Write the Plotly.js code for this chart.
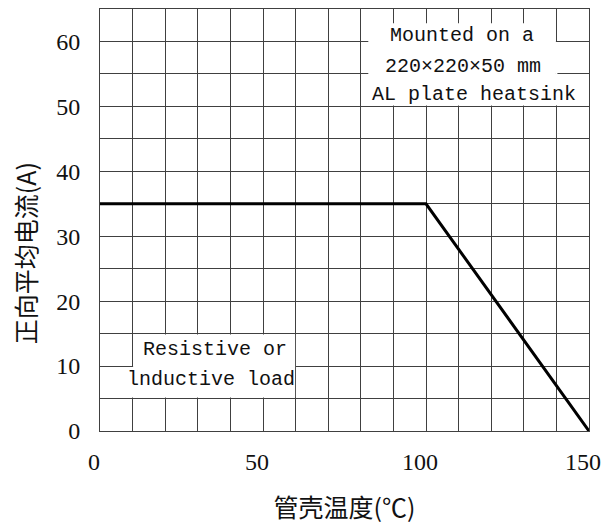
<!DOCTYPE html>
<html>
<head>
<meta charset="utf-8">
<script src="https://cdn.plot.ly/plotly-3.0.1.min.js"></script>
<style>html,body{margin:0;padding:0;background:#fff;}#chart{width:606px;height:524px;}</style>
</head>
<body>
<div id="chart"></div>
<script>
// Derating curve: case temperature (°C) vs average forward current (A)
const caseTemp = [0, 100, 150];
const forwardCurrent = [35, 35, 0];

const xTickVals = [0, 10, 20, 30, 40, 50, 60, 70, 80, 90, 100, 110, 120, 130, 140, 150];
const xTickText = ['0', '', '', '', '', '50', '', '', '', '', '100', '', '', '', '', '150'];
const yTickVals = [0, 5, 10, 15, 20, 25, 30, 35, 40, 45, 50, 55, 60, 65];
const yTickText = ['0', '', '10', '', '20', '', '30', '', '40', '', '50', '', '60', ''];

const noteMounted = ['Mounted on a', '220×220×50 mm', 'AL plate heatsink'];
const noteLoad = ['Resistive or', 'lnductive load'];

const xTitle = '管壳温度(℃)';
const yTitle = '正向平均电流(A)';

const gridColor = '#404040';
const serif = 'Liberation Serif';
const mono = 'Liberation Mono';
const cjk = 'Noto Sans CJK SC';

const trace = {
  x: caseTemp, y: forwardCurrent, type: 'scatter', mode: 'lines',
  line: {color: '#000', width: 3}, cliponaxis: false, hoverinfo: 'skip', showlegend: false
};

function txt(t, x, y) {
  return {text: t, x: x, y: y, xref: 'x', yref: 'y', showarrow: false,
    xanchor: 'center', yanchor: 'middle', font: {family: mono, size: 20, color: '#111'}};
}

const layout = {
  width: 606, height: 524,
  margin: {l: 100, r: 17, t: 9, b: 93},
  paper_bgcolor: '#fff', plot_bgcolor: '#fff',
  showlegend: false,
  xaxis: {
    range: [0, 150], tickvals: xTickVals, ticktext: xTickText, ticks: '',
    showgrid: true, gridcolor: gridColor, gridwidth: 1, zeroline: false,
    showline: true, mirror: true, linecolor: gridColor, linewidth: 1,
    tickfont: {family: serif, size: 24, color: '#111'}, ticklabelstandoff: 9,
    ticklabeloverflow: 'allow', ticklabelshift: -6,
    title: {text: xTitle, font: {family: cjk, size: 25, color: '#111'}, standoff: 25},
    automargin: false, fixedrange: true
  },
  yaxis: {
    range: [0, 65], tickvals: yTickVals, ticktext: yTickText, ticks: '',
    showgrid: true, gridcolor: gridColor, gridwidth: 1, zeroline: false,
    showline: true, mirror: true, linecolor: gridColor, linewidth: 1,
    tickfont: {family: serif, size: 24, color: '#111'}, ticklabelstandoff: 14,
    automargin: false, fixedrange: true
  },
  shapes: [
    {type: 'rect', layer: 'between', xref: 'x', yref: 'y', x0: 82.3, x1: 139.85, y0: 50.15, y1: 62.8, fillcolor: '#fff', line: {width: 0}},
    {type: 'rect', layer: 'between', xref: 'x', yref: 'y', x0: 139.8, x1: 140.3, y0: 50.15, y1: 59.92, fillcolor: '#fff', line: {width: 0}},
    {type: 'rect', layer: 'between', xref: 'x', yref: 'y', x0: 10.15, x1: 59.85, y0: 5.15, y1: 14.85, fillcolor: '#fff', line: {width: 0}},
    {type: 'rect', layer: 'between', xref: 'x', yref: 'y', x0: 0.15, x1: 10.3, y0: 5.15, y1: 9.85, fillcolor: '#fff', line: {width: 0}}
  ],
  annotations: [
    txt(noteMounted[0], 111.0, 60.9),
    txt(noteMounted[1], 111.3, 56.2),
    txt(noteMounted[2], 114.7, 51.8),
    txt(noteLoad[0], 35.3, 12.5),
    txt(noteLoad[1], 34.0, 7.9),
    {text: yTitle, xref: 'paper', yref: 'paper', x: -0.153, y: 0.4218, showarrow: false,
      textangle: -90, xanchor: 'center', yanchor: 'middle', font: {family: cjk, size: 25, color: '#111'}}
  ]
};

Plotly.newPlot('chart', [trace], layout, {displayModeBar: false, staticPlot: true});
</script>
</body>
</html>
